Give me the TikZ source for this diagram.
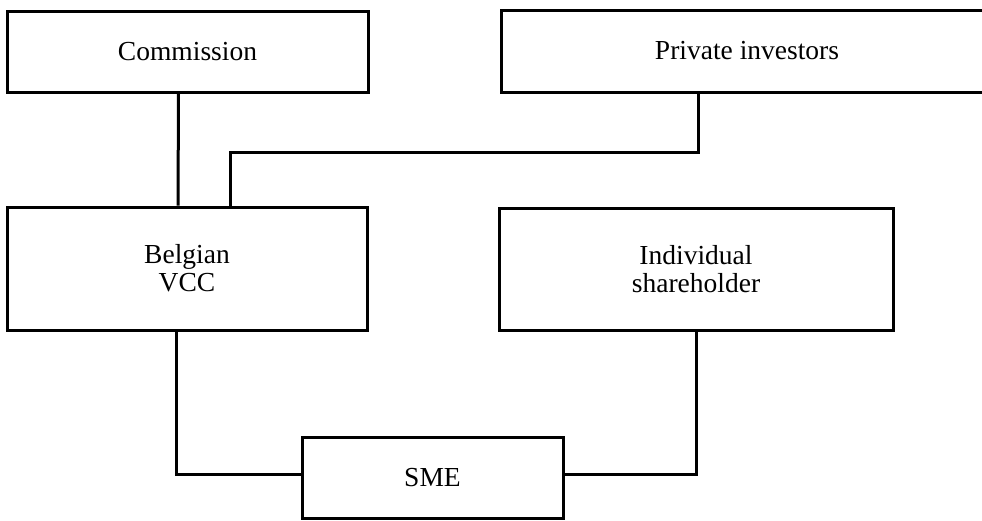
\documentclass[tikz,border=0pt]{standalone}
\usepackage{fontspec}
\setmainfont{Liberation Serif}
\usetikzlibrary{calc}

\begin{document}
\begin{tikzpicture}
[x=1pt,y=-1pt,every node/.style={rectangle,draw,line width=3pt,align=center,font=\fontsize{27.5}{28}\selectfont}]
\tikzset{party/.style = {inner sep=0pt}}
\tikzset{link/.style = {line width=3pt}}
  \useasboundingbox (0,0) rectangle (982,520);
  \node[party,minimum width=361,minimum height=81] (comm) at (187.5,51.5){Commission};
  \node[party,minimum width=492,minimum height=82] (priv) at (747,51){Private investors};
  \node[party,minimum width=360,minimum height=123] (vcc) at (187,268.5){Belgian\\VCC};
  \node[party,minimum width=394,minimum height=122] (ind) at (696,269){Individual\\shareholder};
  \node[party,minimum width=261,minimum height=81] (sme) at (432.5,478){SME};
\draw[link] ([xshift=-9pt]comm.south) -- ([xshift=-9pt]vcc.north);
\draw[link] ([xshift=-49pt]priv.south) -- ++(0,59) -| ([xshift=43pt]vcc.north);
\draw[link] ([xshift=-11pt]vcc.south) |- ([yshift=4pt]sme.west);
\draw[link] (ind.south) |- ([yshift=4pt]sme.east);
\end{tikzpicture}
\end{document}
